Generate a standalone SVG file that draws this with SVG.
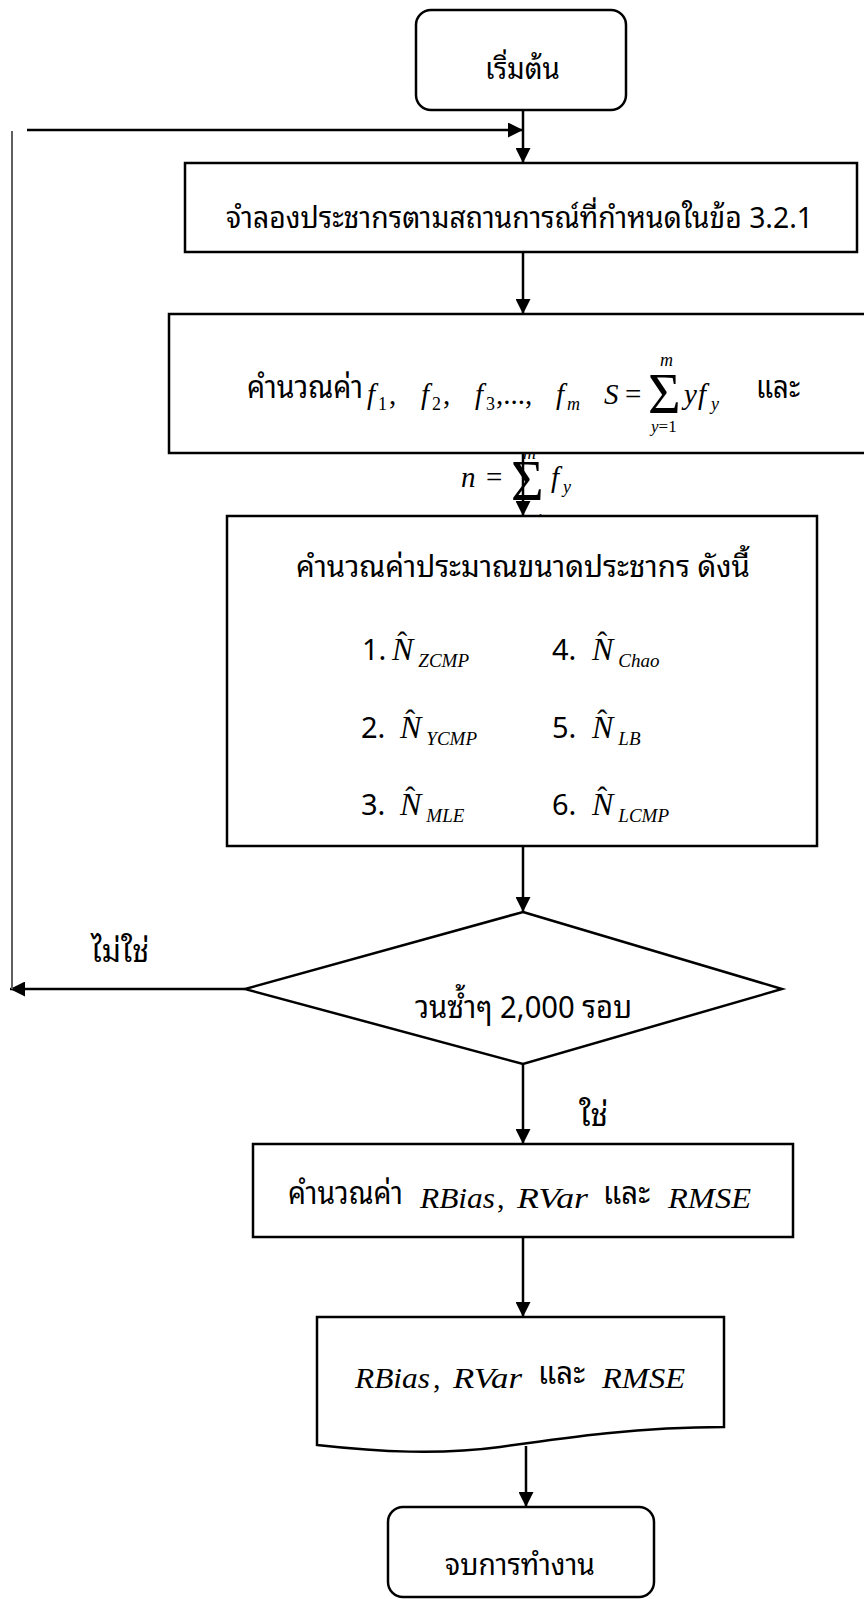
<svg xmlns="http://www.w3.org/2000/svg" width="864" height="1599" viewBox="0 0 864 1599">
<defs>
<style>
.bx{fill:#fff;stroke:#000;stroke-width:2.5}
.cn{fill:none;stroke:#000;stroke-width:2.5}
.th{font-family:"Noto Sans Thai Looped","Noto Looped Thai","Noto Sans Thai","Loma","Garuda","Leelawadee UI",Tahoma,"DejaVu Sans",sans-serif;font-size:29px;fill:#000;font-style:normal}
.tc{font-size:31px}
.mi{font-family:"Liberation Serif","Times New Roman",serif;font-style:italic;fill:#000}
.mr{font-family:"Liberation Serif","Times New Roman",serif;font-style:normal;fill:#000}
.hat{font-family:"Liberation Serif","Times New Roman",serif;font-style:normal;font-size:30px}
.sub{font-size:19px}
</style>
<marker id="ah" viewBox="0 0 10 10" refX="10" refY="5" markerWidth="6" markerHeight="6" orient="auto" markerUnits="strokeWidth">
<path d="M0,0 L10,5 L0,10 z" fill="#000"/>
</marker>
</defs>
<rect width="864" height="1599" fill="#fff"/>

<g id="start">
<rect class="bx" x="416" y="10" width="210" height="100" rx="15"/>
<text class="th" x="485" y="79" textLength="75" lengthAdjust="spacingAndGlyphs">เริ่มต้น</text>
</g>

<g id="simulate">
<rect class="bx" x="185" y="163" width="672" height="89"/>
<text class="th" x="226" y="228" textLength="587" lengthAdjust="spacingAndGlyphs">จำลองประชากรตามสถานการณ์ที่กำหนดในข้อ 3.2.1</text>
</g>

<g id="n-formula">
<text class="mi" font-size="29"><tspan x="461" y="487">n</tspan><tspan class="mr" x="486" y="487">=</tspan><tspan class="mr" x="511" y="500" font-size="56">Σ</tspan><tspan x="523" y="459" font-size="18">m</tspan><tspan class="mr" x="536" y="525" font-size="17">1</tspan><tspan x="551" y="487">f</tspan><tspan x="563" y="493" font-size="18">y</tspan></text>
</g>

<g id="compute-f">
<rect class="bx" x="169" y="314" width="700" height="139"/>
<text class="th tc" x="247" y="398" textLength="116" lengthAdjust="spacingAndGlyphs">คำนวณค่า</text>
<text class="mi" font-size="29"><tspan x="367" y="404">f</tspan><tspan class="mr" x="378" y="410" font-size="18">1</tspan><tspan class="mr" x="389" y="404">,</tspan><tspan x="421" y="404">f</tspan><tspan class="mr" x="432" y="410" font-size="18">2</tspan><tspan class="mr" x="443" y="404">,</tspan><tspan x="475" y="404">f</tspan><tspan class="mr" x="486" y="410" font-size="18">3</tspan><tspan class="mr" x="496" y="404">,...,</tspan><tspan x="556" y="404">f</tspan><tspan x="567" y="410" font-size="18">m</tspan><tspan x="604" y="404">S</tspan><tspan class="mr" x="625" y="404">=</tspan><tspan class="mr" x="648" y="413" font-size="56">Σ</tspan><tspan x="660" y="366" font-size="18">m</tspan><tspan x="651" y="432" font-size="17">y</tspan><tspan class="mr" font-size="17">=1</tspan><tspan x="684" y="404">y</tspan><tspan x="698" y="404">f</tspan><tspan x="711" y="410" font-size="18">y</tspan></text>
<text class="th tc" x="756" y="398" textLength="44" lengthAdjust="spacingAndGlyphs">และ</text>
</g>

<g id="estimate">
<rect class="bx" x="227" y="516" width="590" height="330"/>
<text class="th" x="296" y="577" textLength="454" lengthAdjust="spacingAndGlyphs">คำนวณค่าประมาณขนาดประชากร ดังนี้</text>
<text class="mi" y="660"><tspan class="th" x="362">1.</tspan><tspan x="392" font-size="32">N</tspan><tspan class="hat" dx="-16" dy="-8">ˆ</tspan><tspan class="sub" dx="11" dy="15">ZCMP</tspan></text>
<text class="mi" y="660"><tspan class="th" x="552">4.</tspan><tspan x="592" font-size="32">N</tspan><tspan class="hat" dx="-16" dy="-8">ˆ</tspan><tspan class="sub" dx="11" dy="15">Chao</tspan></text>
<text class="mi" y="738"><tspan class="th" x="361">2.</tspan><tspan x="400" font-size="32">N</tspan><tspan class="hat" dx="-16" dy="-8">ˆ</tspan><tspan class="sub" dx="11" dy="15">YCMP</tspan></text>
<text class="mi" y="738"><tspan class="th" x="552">5.</tspan><tspan x="592" font-size="32">N</tspan><tspan class="hat" dx="-16" dy="-8">ˆ</tspan><tspan class="sub" dx="11" dy="15">LB</tspan></text>
<text class="mi" y="815"><tspan class="th" x="361">3.</tspan><tspan x="400" font-size="32">N</tspan><tspan class="hat" dx="-16" dy="-8">ˆ</tspan><tspan class="sub" dx="11" dy="15">MLE</tspan></text>
<text class="mi" y="815"><tspan class="th" x="552">6.</tspan><tspan x="592" font-size="32">N</tspan><tspan class="hat" dx="-16" dy="-8">ˆ</tspan><tspan class="sub" dx="11" dy="15">LCMP</tspan></text>
</g>

<g id="decision">
<polygon class="bx" points="523,912 782,989 523,1064 245,989"/>
<text class="th tc" x="415" y="1018" textLength="217" lengthAdjust="spacingAndGlyphs">วนซ้ำๆ 2,000 รอบ</text>
</g>

<g id="compute-r">
<rect class="bx" x="253" y="1144" width="540" height="93"/>
<text class="th tc" x="288" y="1204" textLength="115" lengthAdjust="spacingAndGlyphs">คำนวณค่า</text>
<text class="mi" x="420" y="1208" font-size="30" textLength="75" lengthAdjust="spacingAndGlyphs">RBias</text>
<text class="mr" x="497" y="1208" font-size="30">,</text>
<text class="mi" x="517" y="1208" font-size="30" textLength="71" lengthAdjust="spacingAndGlyphs">RVar</text>
<text class="th tc" x="603" y="1204" textLength="47" lengthAdjust="spacingAndGlyphs">และ</text>
<text class="mi" x="668" y="1208" font-size="30" textLength="83" lengthAdjust="spacingAndGlyphs">RMSE</text>
</g>

<g id="output">
<path class="bx" d="M317,1317 H724 V1427 C640,1427 570,1437 500,1447 C440,1455 380,1452 317,1445 Z"/>
<text class="mi" x="355" y="1388" font-size="30" textLength="75" lengthAdjust="spacingAndGlyphs">RBias</text>
<text class="mr" x="433" y="1388" font-size="30">,</text>
<text class="mi" x="453" y="1388" font-size="30" textLength="69" lengthAdjust="spacingAndGlyphs">RVar</text>
<text class="th tc" x="538" y="1384" textLength="47" lengthAdjust="spacingAndGlyphs">และ</text>
<text class="mi" x="602" y="1388" font-size="30" textLength="83" lengthAdjust="spacingAndGlyphs">RMSE</text>
</g>

<g id="end">
<rect class="bx" x="388" y="1507" width="266" height="90" rx="15"/>
<text class="th" x="445" y="1575" textLength="150" lengthAdjust="spacingAndGlyphs">จบการทำงาน</text>
</g>

<g id="connectors">
<line class="cn" x1="523" y1="110" x2="523" y2="163" marker-end="url(#ah)"/>
<line class="cn" x1="27" y1="130" x2="523" y2="130" marker-end="url(#ah)"/>
<line class="cn" x1="523" y1="252" x2="523" y2="314" marker-end="url(#ah)"/>
<line class="cn" x1="523" y1="453" x2="523" y2="516" marker-end="url(#ah)"/>
<line class="cn" x1="523" y1="846" x2="523" y2="912" marker-end="url(#ah)"/>
<line class="cn" x1="245" y1="989" x2="10" y2="989" marker-end="url(#ah)"/>
<line x1="12" y1="131" x2="12" y2="989" stroke="#606060" stroke-width="2"/>
<line class="cn" x1="523" y1="1064" x2="523" y2="1144" marker-end="url(#ah)"/>
<line class="cn" x1="523" y1="1237" x2="523" y2="1317" marker-end="url(#ah)"/>
<line class="cn" x1="526" y1="1446" x2="526" y2="1507" marker-end="url(#ah)"/>
<text class="th tc" x="91" y="962" textLength="58" lengthAdjust="spacingAndGlyphs">ไม่ใช่</text>
<text class="th tc" x="579" y="1126" textLength="29" lengthAdjust="spacingAndGlyphs">ใช่</text>
</g>
</svg>
